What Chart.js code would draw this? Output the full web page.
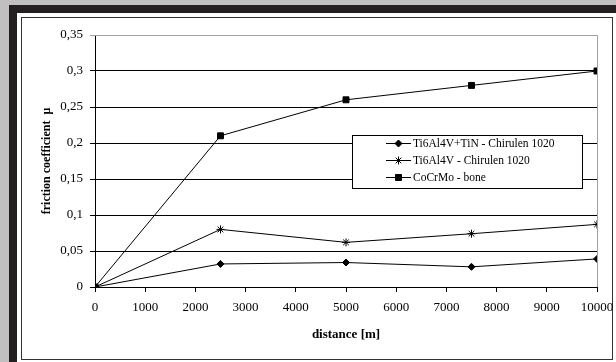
<!DOCTYPE html>
<html lang="en">
<head>
    <meta charset="UTF-8">
    <title>Friction coefficient vs distance</title>
    <script src="https://cdn.jsdelivr.net/npm/chart.js"></script>
    <style>
        html, body { margin: 0; padding: 0; background: #c0c0c0; }
        #wrap { width: 616px; height: 362px; }
    </style>
</head>
<body>
    <div id="wrap"><canvas id="frictionChart" width="616" height="362"></canvas></div>

    <script>
        // distances [m]
        const distance = [0, 2500, 5000, 7500, 10000];
        // friction coefficient per couple
        const tin_chirulen = [0, 0.032, 0.034, 0.028, 0.039];
        const ti_chirulen = [0, 0.080, 0.062, 0.074, 0.087];
        const cocrmo_bone = [0, 0.210, 0.260, 0.280, 0.300];
        const seriesLabels = ['Ti6Al4V+TiN - Chirulen 1020', 'Ti6Al4V - Chirulen 1020', 'CoCrMo - bone'];
        const yTickLabels = ['0', '0,05', '0,1', '0,15', '0,2', '0,25', '0,3', '0,35'];

        const serif = 'Liberation Serif, Times New Roman, serif';

        function toPoints(vals) {
            return distance.map((d, i) => ({ x: d, y: vals[i] }));
        }

        // frame around the figure (grey page, dark band, white sheet)
        const framePlugin = {
            id: 'frame',
            beforeDraw(chart) {
                const ctx = chart.ctx;
                const w = chart.width, h = chart.height;
                ctx.save();
                ctx.fillStyle = '#c0c0c0';
                ctx.fillRect(0, 0, w, h);
                ctx.fillStyle = '#231f20';
                ctx.fillRect(9, 5, w - 9, h - 5);
                ctx.fillStyle = '#ffffff';
                ctx.fillRect(17, 13, w - 17, h - 13);
                ctx.strokeStyle = '#333333';
                ctx.lineWidth = 1;
                ctx.strokeRect(21.5, 17.5, 591, 342);
                ctx.restore();
            },
            beforeDatasetsDraw(chart) {
                const ctx = chart.ctx;
                const a = chart.chartArea;
                ctx.save();
                ctx.strokeStyle = '#a0a0a0';
                ctx.lineWidth = 1;
                ctx.beginPath();
                ctx.moveTo(a.left, a.top + 0.5);
                ctx.lineTo(a.right + 0.5, a.top + 0.5);
                ctx.lineTo(a.right + 0.5, a.bottom);
                ctx.stroke();
                ctx.restore();
            }
        };

        // boxed legend inside the plot
        const boxLegend = {
            id: 'boxLegend',
            afterDraw(chart) {
                const ctx = chart.ctx;
                const x0 = 352, y0 = 135, w = 230, h = 53;
                ctx.save();
                ctx.fillStyle = '#ffffff';
                ctx.fillRect(x0, y0, w, h);
                ctx.strokeStyle = '#000000';
                ctx.lineWidth = 1;
                ctx.strokeRect(x0 + 0.5, y0 + 0.5, w, h);
                ctx.font = '11.5px ' + serif;
                ctx.textBaseline = 'middle';
                chart.data.datasets.forEach((ds, i) => {
                    const y = y0 + 8 + i * 17;
                    ctx.strokeStyle = '#000';
                    ctx.fillStyle = '#000';
                    ctx.beginPath();
                    ctx.moveTo(386, y + 0.5);
                    ctx.lineTo(411, y + 0.5);
                    ctx.stroke();
                    Chart.helpers.drawPoint(ctx, {
                        pointStyle: ds.pointStyle,
                        radius: ds.pointRadius,
                        borderWidth: 1
                    }, 398.5, y + 0.5);
                    ctx.fillStyle = '#000';
                    ctx.fillText(ds.label, 413, y + 1);
                });
                ctx.restore();
            }
        };

        const ctx = document.getElementById('frictionChart').getContext('2d');
        const chart = new Chart(ctx, {
            type: 'line',
            data: {
                datasets: [
                    { label: seriesLabels[0], data: toPoints(tin_chirulen), pointStyle: 'rectRot', pointRadius: 3.5 },
                    { label: seriesLabels[1], data: toPoints(ti_chirulen), pointStyle: 'star', pointRadius: 4 },
                    { label: seriesLabels[2], data: toPoints(cocrmo_bone), pointStyle: 'rect', pointRadius: 4.2 }
                ].map(d => Object.assign(d, {
                    borderColor: '#000',
                    backgroundColor: '#000',
                    pointBackgroundColor: '#000',
                    pointBorderColor: '#000',
                    pointBorderWidth: 1,
                    borderWidth: 1,
                    fill: false,
                    tension: 0
                }))
            },
            options: {
                responsive: false,
                animation: false,
                layout: { padding: { left: 20, top: 35, right: 19, bottom: 0 } },
                plugins: {
                    legend: { display: false },
                    tooltip: { enabled: false }
                },
                scales: {
                    x: {
                        type: 'linear',
                        min: 0,
                        max: 10000,
                        afterFit: s => {
                            s.height = 75;
                            // labels may overhang the plot on the right, like the original
                            s.paddingRight = 0;
                            s.paddingLeft = 0;
                        },
                        ticks: {
                            stepSize: 1000,
                            color: '#000',
                            padding: 8,
                            maxRotation: 0,
                            font: { family: serif, size: 13 },
                            callback: v => String(v)
                        },
                        grid: { drawOnChartArea: false, drawTicks: true, tickLength: 5, color: '#000' },
                        border: { color: '#000', width: 1 },
                        title: {
                            display: true,
                            text: 'distance [m]',
                            color: '#000',
                            padding: { top: 0, bottom: 20 },
                            font: { family: serif, size: 13, weight: 'bold' }
                        }
                    },
                    y: {
                        min: 0,
                        max: 0.35,
                        afterFit: s => { s.width = 75; },
                        ticks: {
                            stepSize: 0.05,
                            color: '#000',
                            padding: 7,
                            font: { family: serif, size: 13 },
                            callback: (v, i) => yTickLabels[i]
                        },
                        grid: {
                            color: c => (c.index === 7 ? '#a0a0a0' : '#000'),
                            tickLength: 5,
                            lineWidth: 1
                        },
                        border: { color: '#000', width: 1 },
                        title: {
                            display: true,
                            text: 'friction coefficient  μ',
                            color: '#000',
                            padding: { top: 20, bottom: 0 },
                            font: { family: serif, size: 12, weight: 'bold' }
                        }
                    }
                }
            },
            plugins: [framePlugin, boxLegend]
        });
    </script>
</body>
</html>
